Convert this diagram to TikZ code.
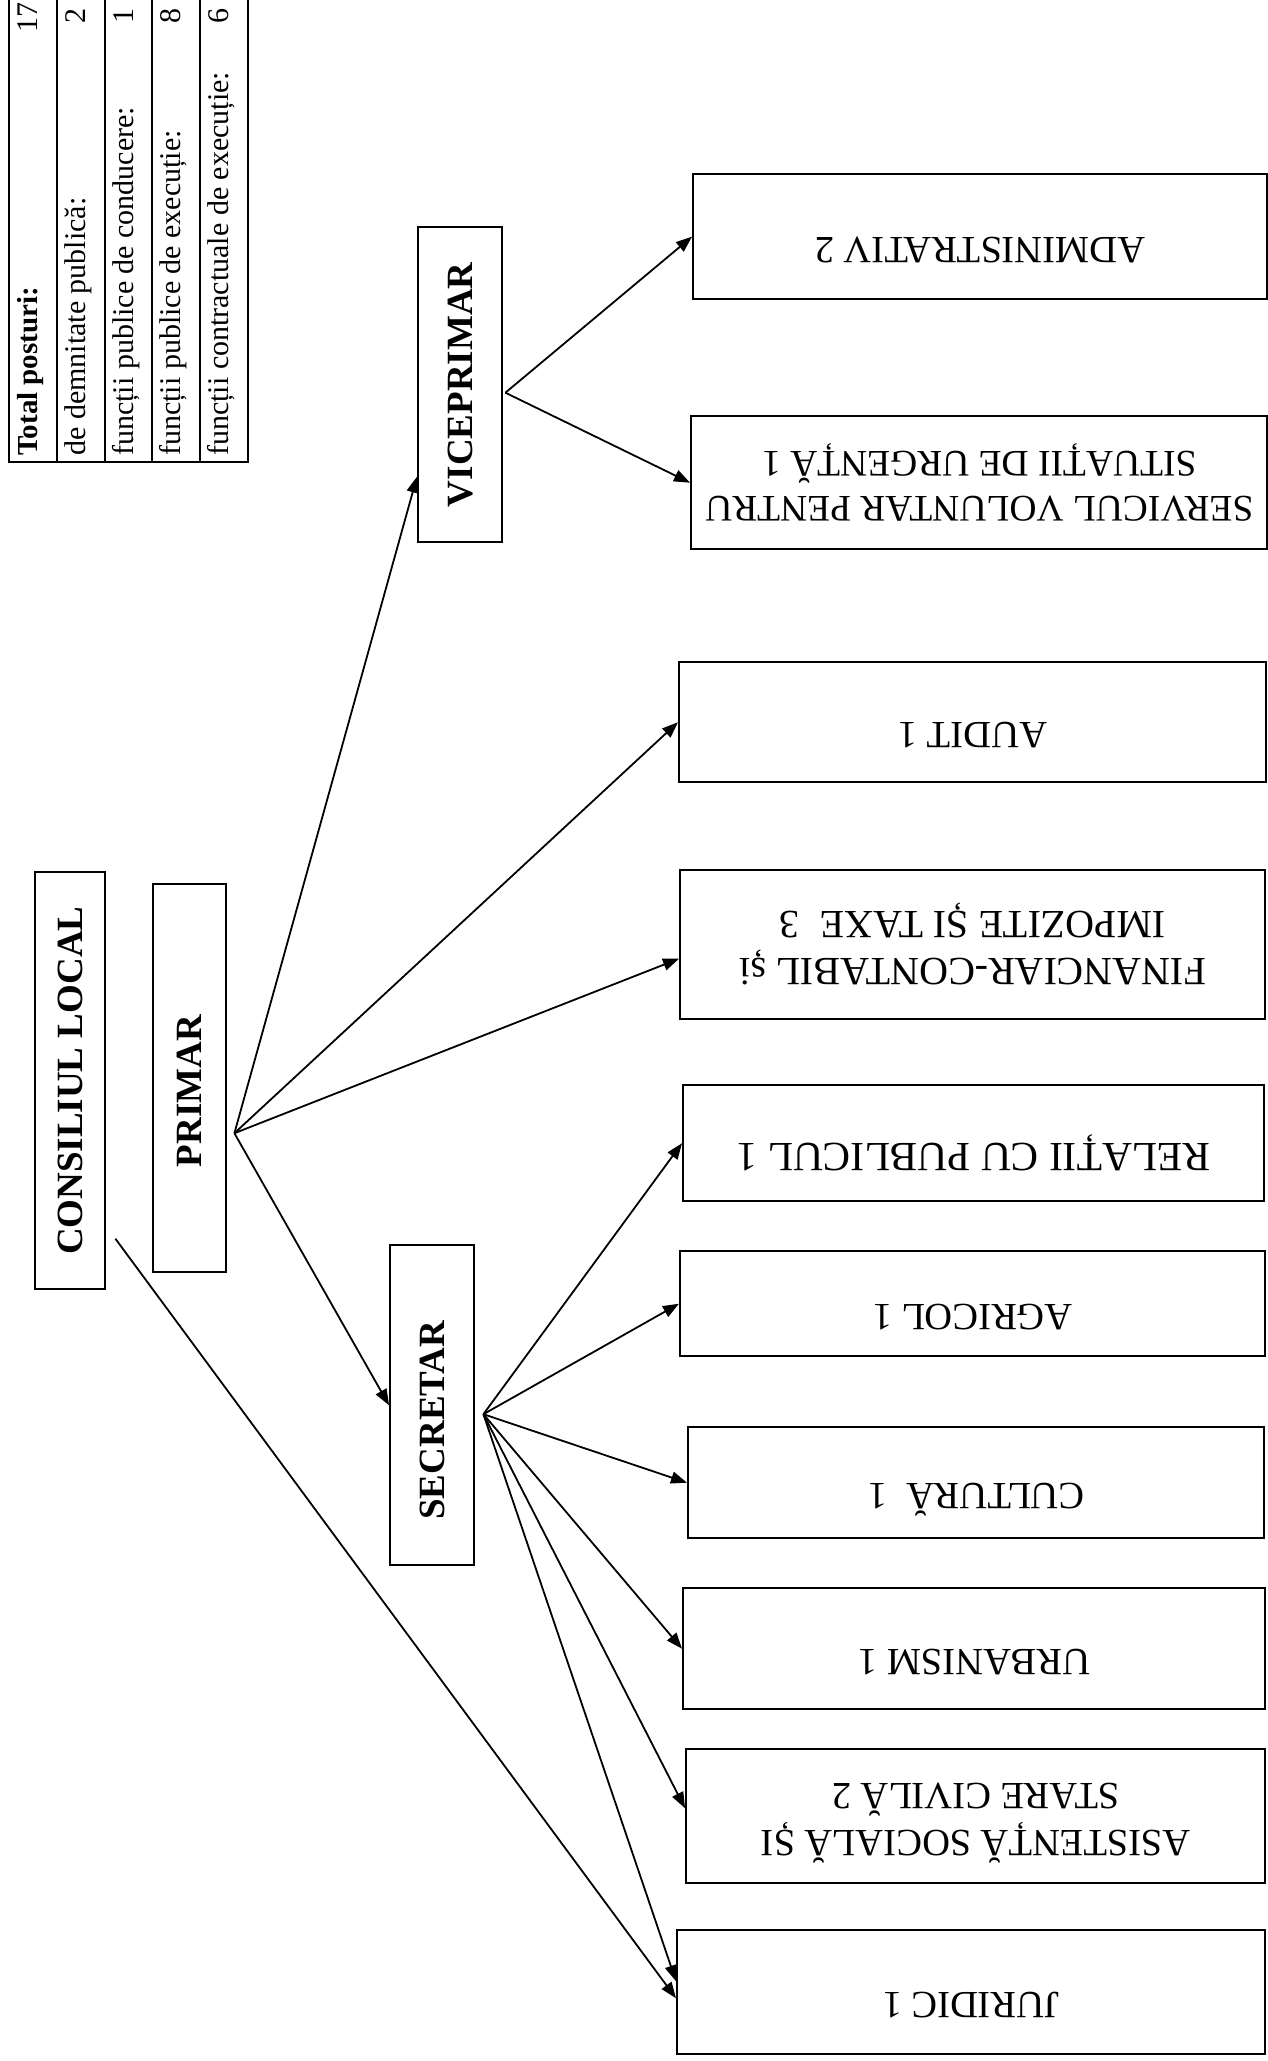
\documentclass[tikz,border=0pt]{standalone}
\usepackage{fontspec}
\setmainfont{Liberation Serif}
\usetikzlibrary{arrows.meta}
\begin{document}
\begin{tikzpicture}[x=1pt,y=1pt,
 dept/.style={draw,line width=2.4pt,anchor=north west,inner sep=0pt,font=\fontsize{38.5}{46}\selectfont},
 head/.style={dept,font=\fontsize{37}{45}\selectfont\bfseries},
 one/.style={text height=26pt,text depth=25pt},
 cell/.style={rotate=90,inner sep=0pt,font=\fontsize{30}{35}\selectfont},
 link/.style={line width=1.8pt},
 arr/.style={link,-{Triangle[length=16pt,width=12pt]}}]
\useasboundingbox (0,0) rectangle (1268,-2061);
% total posturi
\draw[line width=1.8pt] (9,4) rectangle (248,-462);
\foreach \x in {57,105,152,200} \draw[line width=1.8pt] (\x,4) -- (\x,-462);
\node[cell,anchor=mid west,font=\fontsize{29}{34}\selectfont\bfseries] (tot) at (35,-456) {Total posturi:};
\node[cell,anchor=mid west] (dem) at (83,-456) {de demnitate publică:};
\node[cell,anchor=mid west] (cond) at (131,-456) {funcții publice de conducere:};
\node[cell,anchor=mid west] (exec) at (178,-456) {funcții publice de execuție:};
\node[cell,anchor=mid west] (contr) at (226,-456) {funcții contractuale de execuție:};
\node[cell,anchor=mid east] (ntot) at (35,-2) {17};
\node[cell,anchor=mid east] (ndem) at (83,-8) {2};
\node[cell,anchor=mid east] (ncond) at (131,-8) {1};
\node[cell,anchor=mid east] (nexec) at (178,-8) {8};
\node[cell,anchor=mid east] (ncontr) at (226,-8) {6};
% conducere
\node[head,minimum width=70pt,minimum height=417pt] (consiliu) at (34,-871) {\rotatebox{90}{CONSILIUL LOCAL}};
\node[head,minimum width=73pt,minimum height=388pt] (primar) at (152,-883) {\rotatebox{90}{PRIMAR\hspace{26pt}}};
\node[head,minimum width=84pt,minimum height=315pt] (viceprimar) at (417,-226) {\rotatebox{90}{VICEPRIMAR}};
\node[head,minimum width=84pt,minimum height=320pt] (secretar) at (389,-1244) {\rotatebox{90}{SECRETAR\hspace{30pt}}};
% compartimente
\node[dept,one,minimum width=574pt,minimum height=125pt] (admin) at (692,-173) {\rotatebox{180}{ADMINISTRATIV 2}};
\node[dept,minimum width=576pt,minimum height=133pt,font=\fontsize{37.5}{45}\selectfont] (servicul) at (690,-415) {\rotatebox{180}{\begin{tabular}{@{}c@{}}SERVICUL VOLUNTAR PENTRU\\SITUAȚII DE URGENȚĂ 1\end{tabular}}};
\node[dept,one,minimum width=587pt,minimum height=120pt] (audit) at (678,-661) {\rotatebox{180}{AUDIT 1}};
\node[dept,minimum width=585pt,minimum height=149pt,font=\fontsize{40}{47}\selectfont] (financiar) at (679,-869) {\rotatebox{180}{\begin{tabular}{@{}c@{}}FINANCIAR-CONTABIL și\\IMPOZITE ȘI TAXE\ \ 3\end{tabular}}};
\node[dept,one,minimum width=581pt,minimum height=116pt,font=\fontsize{41.5}{48}\selectfont] (relatii) at (682,-1084) {\rotatebox{180}{RELAȚII CU PUBLICUL 1}};
\node[dept,one,minimum width=585pt,minimum height=105pt] (agricol) at (679,-1250) {\rotatebox{180}{AGRICOL 1}};
\node[dept,one,minimum width=576pt,minimum height=111pt] (cultura) at (687,-1426) {\rotatebox{180}{CULTURĂ\ \ 1}};
\node[dept,one,minimum width=582pt,minimum height=121pt] (urbanism) at (682,-1587) {\rotatebox{180}{URBANISM 1}};
\node[dept,minimum width=579pt,minimum height=134pt] (asistenta) at (685,-1748) {\rotatebox{180}{\begin{tabular}{@{}c@{}}ASISTENȚĂ SOCIALĂ ȘI\\STARE CIVILĂ 2\end{tabular}}};
\node[dept,one,minimum width=588pt,minimum height=124pt] (juridic) at (676,-1929) {\rotatebox{180}{JURIDIC 1}};
% legaturi
\coordinate (pfan) at ([xshift=7pt,yshift=-55pt]primar.east);
\coordinate (sfan) at ([xshift=8pt,yshift=-9pt]secretar.east);
\coordinate (vfan) at ([xshift=2pt,yshift=-8pt]viceprimar.east);
\coordinate (cfan) at ([xshift=9pt,yshift=-158pt]consiliu.east);
\draw[arr] (pfan) -- ([yshift=-92pt]viceprimar.west);
\draw[arr] (pfan) -- (audit.west);
\draw[arr] (pfan) -- ([yshift=-14pt]financiar.west);
\draw[arr] (pfan) -- (secretar.west);
\draw[arr] (vfan) -- (admin.west);
\draw[arr] (vfan) -- (servicul.west);
\foreach \t in {relatii,agricol,cultura,urbanism} \draw[arr] (sfan) -- (\t.west);
\draw[arr] (sfan) -- ([yshift=8pt]asistenta.west);
\draw[arr] (sfan) -- ([yshift=11pt]juridic.west);
\draw[arr] (cfan) -- ([yshift=-6pt]juridic.west);
\end{tikzpicture}
\end{document}
